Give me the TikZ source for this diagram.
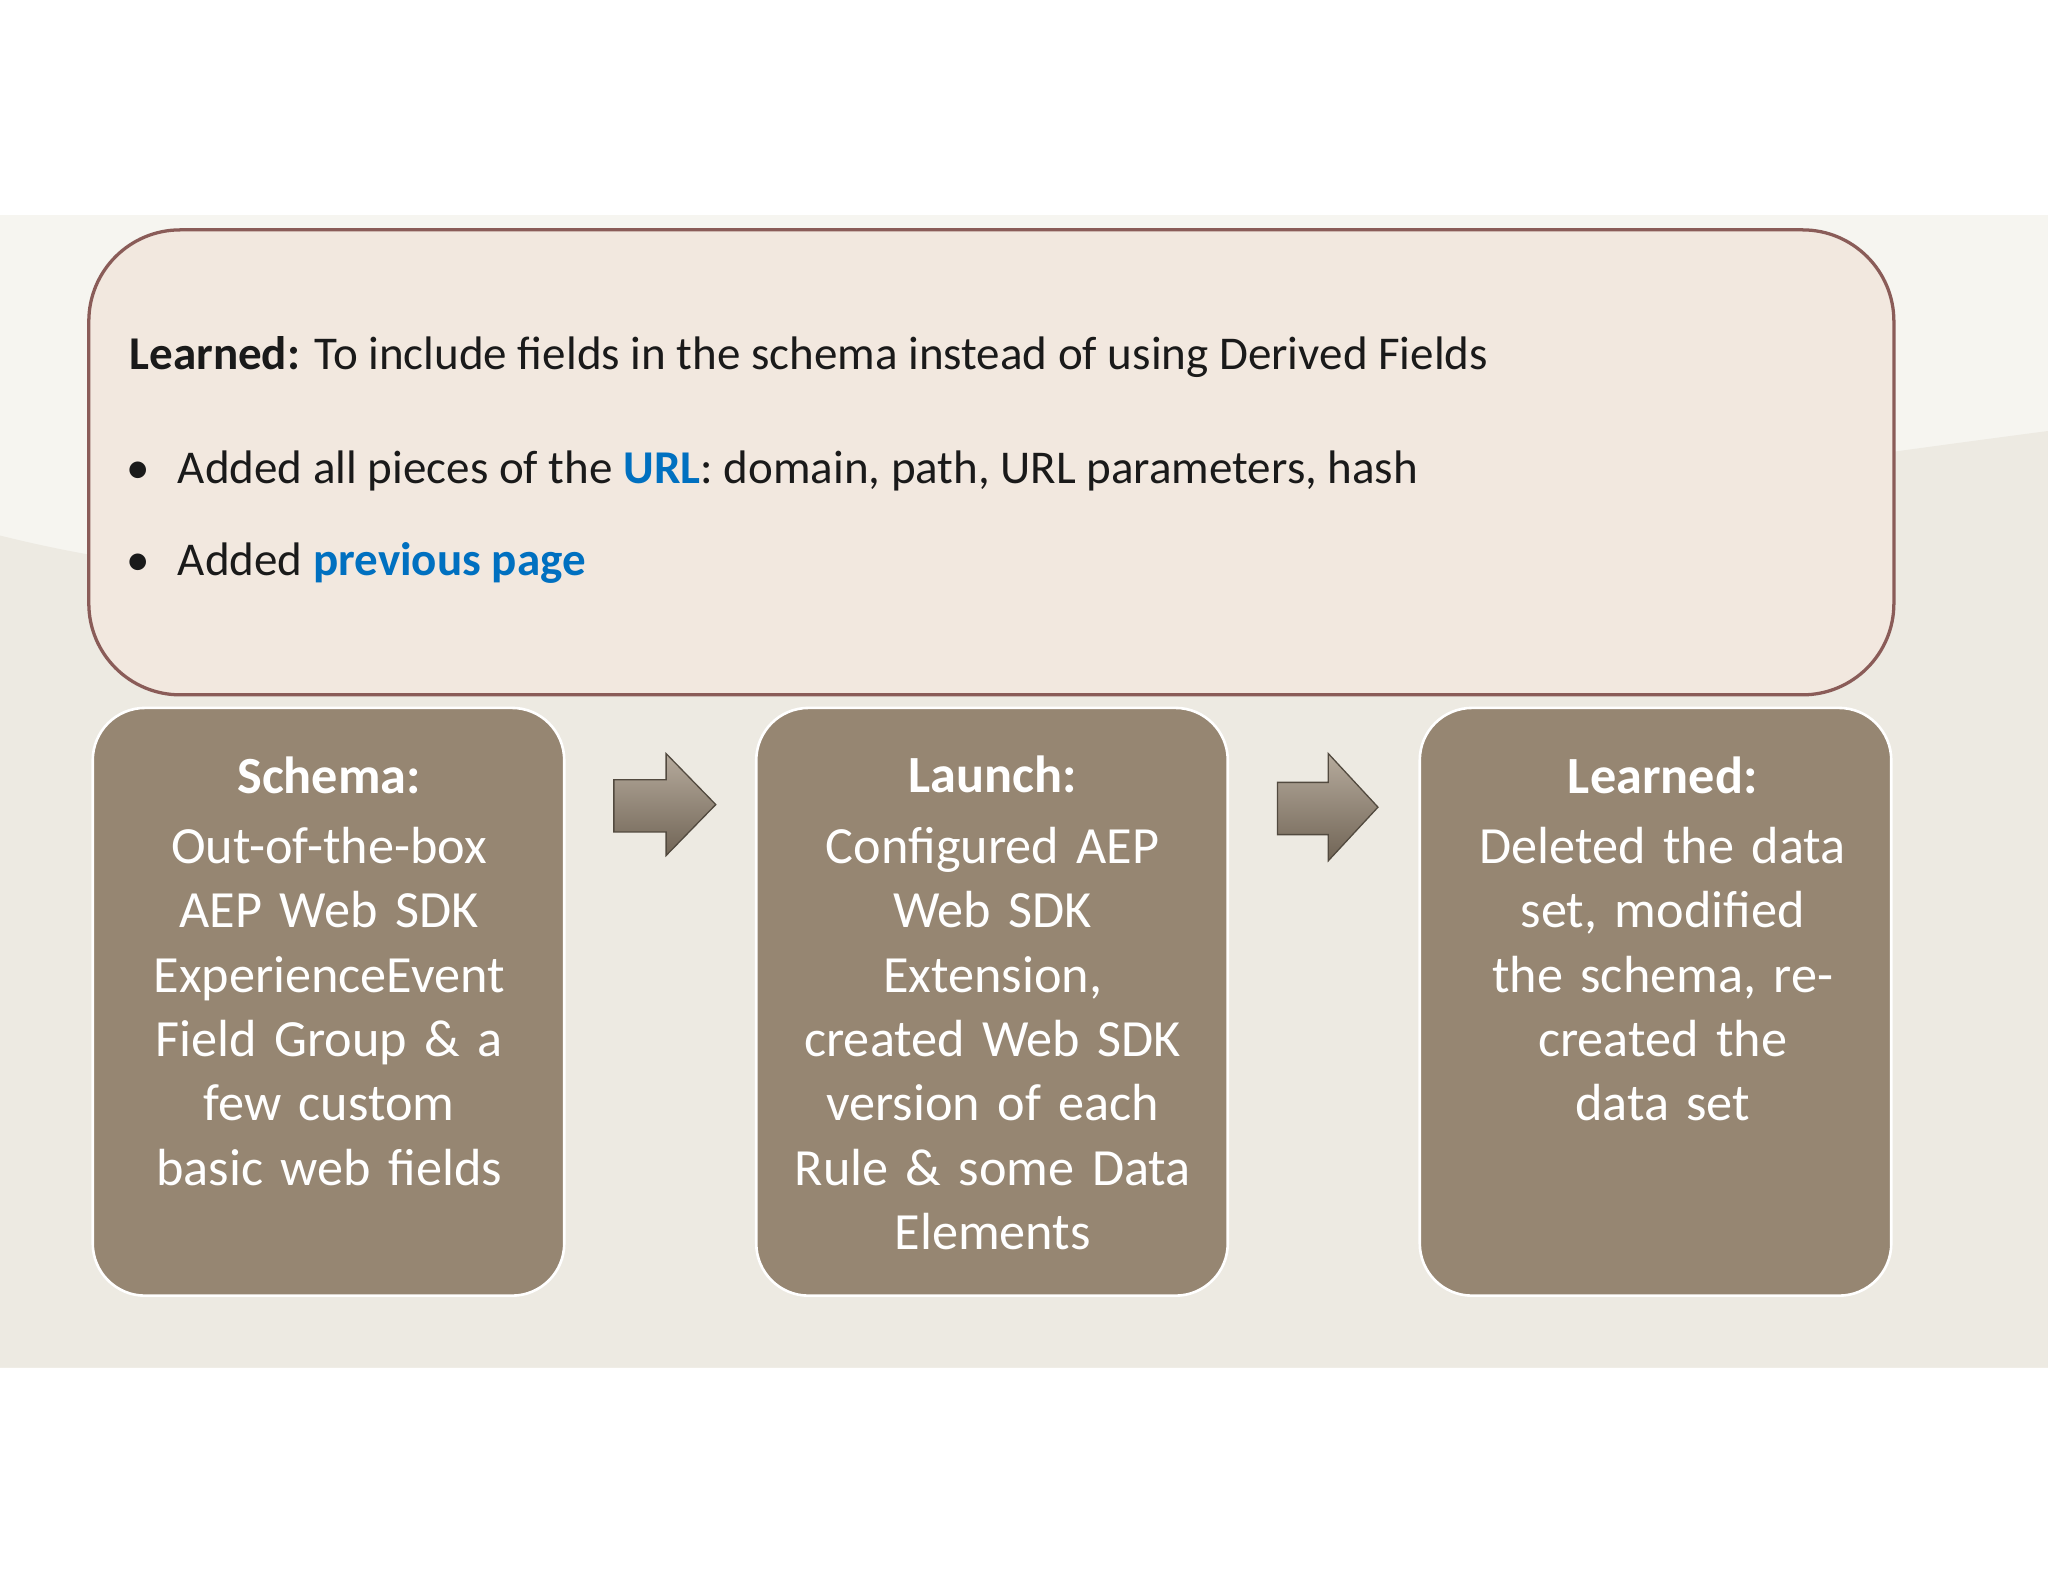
\documentclass[tikz,border=0pt]{standalone}
\usepackage{fontspec}
\setmainfont{Carlito}
\definecolor{bandA}{HTML}{F6F5F0}
\definecolor{bandB}{HTML}{EDEAE2}
\definecolor{topfill}{HTML}{F2E8DF}
\definecolor{topedge}{HTML}{8A5C58}
\definecolor{boxfill}{HTML}{968672}
\definecolor{blueT}{HTML}{0070C0}
\definecolor{txt}{HTML}{1A1A1A}
\begin{document}
\begin{tikzpicture}[x=1pt,y=1pt,
  stagebox/.style={draw=white,line width=2pt,fill=boxfill,rounded corners=40pt},
  headtxt/.style={text=white,font=\fontsize{40}{48}\selectfont\bfseries},
  bodytxt/.style={text=white,font=\fontsize{40}{49.3}\selectfont,align=center,text width=350pt,anchor=north,inner sep=0pt},
  flowarrow/.style={top color=boxfill!70!white,bottom color=boxfill!75!black,draw=boxfill!55!black,line width=1pt},
  linetxt/.style={anchor=base west,inner sep=0pt,text=txt,font=\fontsize{36}{43}\selectfont}]
\useasboundingbox (0,0) rectangle (1568,1211);
\fill[white] (0,0) rectangle (1568,1211);
% band
\fill[bandA] (0,164) rectangle (1568,1046);
\fill[bandB] (0,164) -- (0,801) .. controls (400,700) and (1100,820) .. (1568,881) -- (1568,164) -- cycle;
% top box
\draw[draw=topedge,line width=2.5pt,fill=topfill,rounded corners=70pt] (68,679) rectangle (1450,1035);
\node[linetxt] (l1) at (99,928) {\textbf{Learned:} To include fields in the schema instead of using Derived Fields};
\node[linetxt] (b1) at (97,841) {•};
\node[linetxt] (l2) at (136,841) {Added all pieces of the \textbf{\color{blueT}URL}: domain, path, URL parameters, hash};
\node[linetxt] (b2) at (97,770) {•};
\node[linetxt] (l3) at (136,770) {Added \textbf{\color{blueT}previous page}};
% stage boxes
\draw[stagebox] (71,219) rectangle (432,669);
\draw[stagebox] (579,219) rectangle (940,669);
\draw[stagebox] (1087,219) rectangle (1448,669);
\node[headtxt] (h1) at (252,617) {Schema:};
\node[headtxt] (h2) at (760,618) {Launch:};
\node[headtxt] (h3) at (1273,617) {Learned:};
\node[bodytxt] (t1) at (252,578) {Out-of-the-box\\AEP Web SDK\\ExperienceEvent\\Field Group \& a\\few custom\\basic web fields};
\node[bodytxt] (t2) at (760,578) {Configured AEP\\Web SDK\\Extension,\\created Web SDK\\version of each\\Rule \& some Data\\Elements};
\node[bodytxt] (t3) at (1273,578) {Deleted the data\\set, modified\\the schema, re-\\created the\\data set};
% arrows
\draw[flowarrow] (470,574) -- (510,574) -- (510,556) -- (548,595) -- (510,634) -- (510,614) -- (470,614) -- cycle;
\draw[flowarrow] (978,572) -- (1017,572) -- (1017,552) -- (1055,593) -- (1017,634) -- (1017,612) -- (978,612) -- cycle;
\end{tikzpicture}
\end{document}
